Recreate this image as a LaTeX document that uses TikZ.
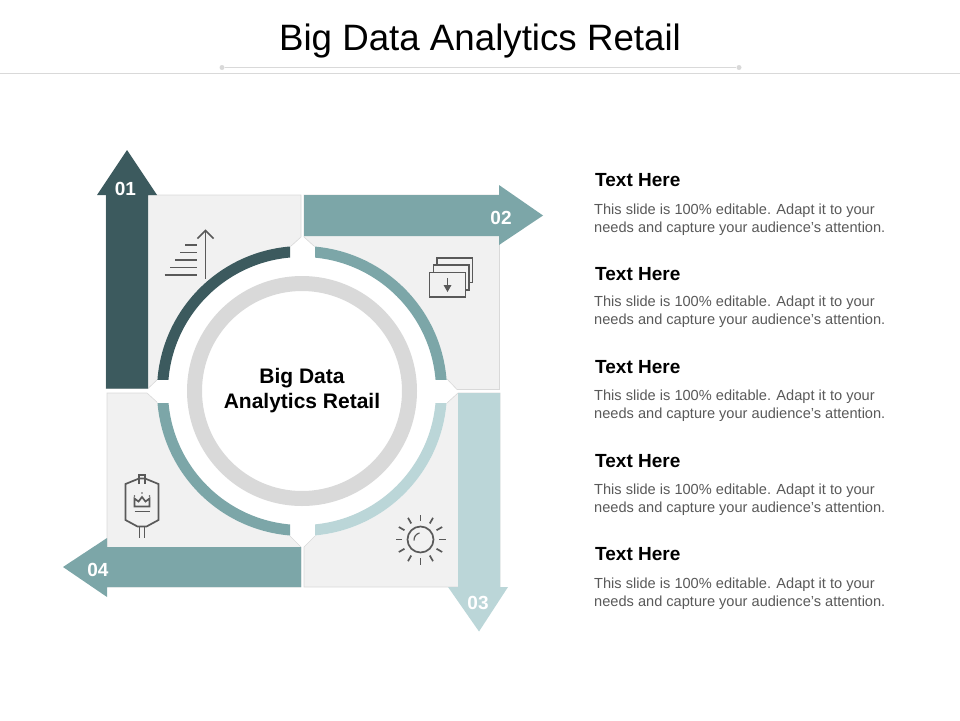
\documentclass[tikz,border=0pt]{standalone}
\usepackage{fontspec}
\setmainfont{Liberation Sans}
\usetikzlibrary{calc}
\definecolor{mdark}{HTML}{3C5A5E}
\definecolor{mmid}{HTML}{7CA6A8}
\definecolor{mlight}{HTML}{BBD6D8}
\definecolor{mpanel}{HTML}{F1F1F1}
\definecolor{mrule}{HTML}{D9D9D9}
\definecolor{mgrey}{HTML}{595959}
\tikzset{circ/.style = {fill, circle, inner sep = 0, minimum size = 5}}
\tikzset{panel/.style = {fill=mpanel, draw=mrule, line width=0.6pt}}
\tikzset{ringarc/.style = {line width=11pt}}
\tikzset{num/.style = {text=white, font=\fontsize{19}{20}\selectfont\bfseries}}
\tikzset{head/.style = {anchor=west, inner sep=0, font=\fontsize{19}{20}\selectfont\bfseries}}
\tikzset{body/.style = {anchor=west, inner sep=0, align=left, text=mgrey, font=\fontsize{14.6}{18}\selectfont}}
\tikzset{icon/.style = {draw=mgrey, line width=1.7pt}}
\newcommand{\bodytext}{This slide is 100\% editable. Adapt it to your\\needs and capture your audience's attention.}
\begin{document}
\begin{tikzpicture}[x=1pt, y=-1pt]
      \useasboundingbox (0, 0) rectangle (960, 720);

      % header
      \node (title) at (480, 41.5) [font=\fontsize{36.7}{40}\selectfont] {Big Data Analytics Retail};
      \draw [mrule, line width=0.8pt] (0, 73) -- (960, 73);
      \node (dotl) [circ, mrule] at (222, 67.5) {};
      \node (dotr) [circ, mrule] at (739, 67.5) {};
      \draw [mrule, line width=0.8pt] (dotl) -- (dotr);

      % panels
      \draw [panel] (106, 195) -- (301, 195) -- (301, 237) -- (290, 247) -- (158, 379) -- (148, 388.5) -- (106, 388.5) -- cycle;
      \draw [panel] (304, 195) -- (499.5, 195) -- (499.5, 389.5) -- (457, 389.5) -- (447, 379) -- (315, 247) -- (304, 237) -- cycle;
      \draw [panel] (304, 587) -- (500, 587) -- (500, 393) -- (458, 393) -- (447, 403) -- (315, 536) -- (304, 547) -- cycle;
      \draw [panel] (107, 587) -- (301, 587) -- (301, 547) -- (290, 536) -- (158, 403) -- (147, 393) -- (107, 393) -- cycle;
      \fill [white] (302, 391) circle [radius=145pt];

      % arrows
      \fill [mdark] (106, 388.5) -- (106, 195) -- (97, 195) -- (127, 150) -- (157, 195) -- (148, 195) -- (148, 388.5) -- cycle;
      \fill [mmid] (304, 195) -- (499, 195) -- (499, 185) -- (543, 215.5) -- (499, 245) -- (499, 236) -- (304, 236) -- cycle;
      \fill [mlight] (458, 393) -- (458, 587) -- (448, 587) -- (479, 631.5) -- (508, 587) -- (500, 587) -- (500, 393) -- cycle;
      \fill [mmid] (301, 547) -- (107, 547) -- (107, 538) -- (63, 567) -- (107, 597) -- (107, 587) -- (301, 587) -- cycle;

      \node (num1) [num] at (125.5, 189) {01};
      \node (num2) [num] at (501, 218) {02};
      \node (num3) [num] at (478, 602.5) {03};
      \node (num4) [num] at (98, 570) {04};

      % arcs
      \begin{scope}
        \clip (150, 240) rectangle (290, 379);
        \draw [ringarc, mdark] (302, 391) circle [radius=139.5pt];
      \end{scope}
      \begin{scope}
        \clip (315, 240) rectangle (455, 379);
        \draw [ringarc, mmid] (302, 391) circle [radius=139.5pt];
      \end{scope}
      \begin{scope}
        \clip (315, 403) rectangle (455, 542);
        \draw [ringarc, mlight] (302, 391) circle [radius=139.5pt];
      \end{scope}
      \begin{scope}
        \clip (150, 403) rectangle (290, 542);
        \draw [ringarc, mmid] (302, 391) circle [radius=139.5pt];
      \end{scope}
      \draw [mrule, line width=15pt] (302, 391) circle [radius=107.5pt];

      \node (centre) at (302, 391) [align=center, font=\fontsize{21}{25}\selectfont\bfseries] {Big Data\\Analytics Retail};

      % icon stairs
      \draw [icon] (164.5, 275) -- (197, 275);
      \draw [icon] (170, 267.5) -- (197, 267.5);
      \draw [icon] (175, 260) -- (197, 260);
      \draw [icon] (180, 252.5) -- (197, 252.5);
      \draw [icon] (185, 245) -- (197, 245);
      \draw [icon] (205.5, 278.5) -- (205.5, 230.5);
      \draw [icon] (197.5, 238.5) -- (205.5, 230.5) -- (213.5, 238.5);

      % icon pages
      \draw [icon] (429.5, 272.5) rectangle (465.5, 297);
      \draw [icon] (433.5, 272.5) -- (433.5, 265) -- (469, 265) -- (469, 290) -- (465.5, 290);
      \draw [icon] (437, 265) -- (437, 258) -- (472.5, 258) -- (472.5, 282.5) -- (469, 282.5);
      \draw [icon] (447.5, 278) -- (447.5, 286);
      \fill [mgrey] (443.5, 285) -- (451.5, 285) -- (447.5, 292) -- cycle;

      % icon sun
      \draw [icon] (420.5, 539.5) circle [radius=13pt];
      \draw [icon, line width=1.2pt] (414, 540.5) .. controls (414, 536.5) and (416, 534) .. (419.5, 533);
      \foreach \a in {0, 30, ..., 330}
        \draw [icon] ($(420.5, 539.5) + (\a:18.5)$) -- ($(420.5, 539.5) + (\a:25)$);

      % icon banner
      \draw [icon] (125.5, 484) -- (139, 478.5) -- (145, 478.5) -- (158.5, 484) -- (158.5, 520) -- (146.5, 526.5) -- (137.5, 526.5) -- (125.5, 520) -- cycle;
      \draw [icon] (139, 484) -- (139, 475) -- (145, 475) -- (145, 484);
      \draw [icon] (139.5, 526.5) -- (139.5, 537.5);
      \draw [icon] (144.5, 526.5) -- (144.5, 537.5);
      \draw [icon] (134.5, 511.5) -- (150, 511.5);
      \draw [icon] (134.5, 498.5) -- (138.5, 501.5) -- (142, 497) -- (145.5, 501.5) -- (149.5, 498.5) -- (149.5, 506.5) -- (134.5, 506.5) -- cycle;
      \fill [mgrey] (142, 493) circle [radius=0.9pt] (134.5, 496) circle [radius=0.9pt] (149.5, 496) circle [radius=0.9pt];

      % text rows
      \node (head1) [head] at (595, 180.5) {Text Here};
      \node (body1) [body] at (594, 219.5) {\bodytext};
      \node (head2) [head] at (595, 274.5) {Text Here};
      \node (body2) [body] at (594, 312) {\bodytext};
      \node (head3) [head] at (595, 367.5) {Text Here};
      \node (body3) [body] at (594, 406) {\bodytext};
      \node (head4) [head] at (595, 461.5) {Text Here};
      \node (body4) [body] at (594, 500) {\bodytext};
      \node (head5) [head] at (595, 554.5) {Text Here};
      \node (body5) [body] at (594, 594) {\bodytext};
\end{tikzpicture}
\end{document}
